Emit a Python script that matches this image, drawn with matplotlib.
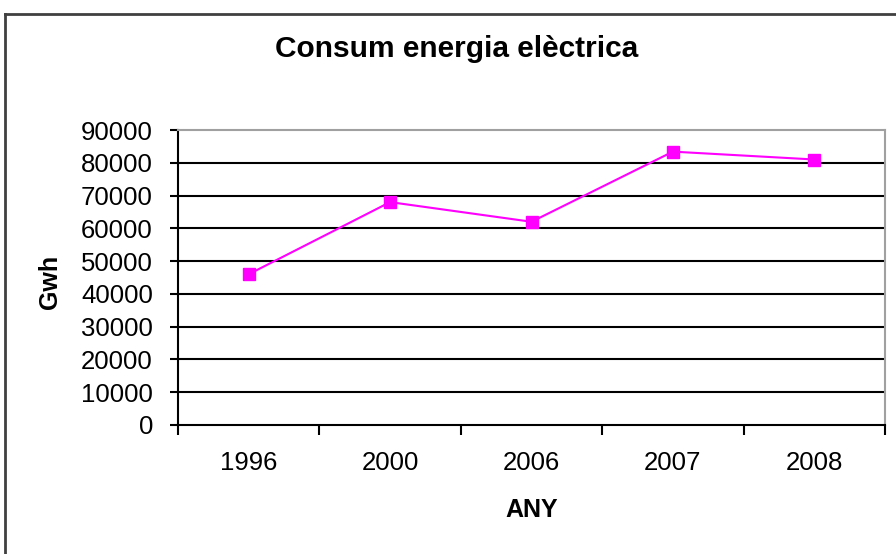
import matplotlib
matplotlib.use("Agg")
import matplotlib.pyplot as plt
from matplotlib.lines import Line2D
from matplotlib.ticker import FixedLocator, NullFormatter

years = ["1996", "2000", "2006", "2007", "2008"]
gwh = [46000, 68000, 62000, 83400, 81000]
y_ticks = list(range(0, 90001, 10000))

font = "Liberation Sans"

W, H = 896, 554
fig = plt.figure(figsize=(W / 100, H / 100), dpi=100)
ax = fig.add_axes([178 / W, 1 - 425 / H, (885 - 178) / W, (425 - 130) / H])

x = list(range(len(years)))
ax.plot(x, gwh, color="#FF00FF", linewidth=1.5, marker="s", markersize=8.5, zorder=5)

ax.set_xlim(-0.5, len(years) - 0.5)
ax.set_ylim(0, 90000)
ax.set_yticks(y_ticks)
ax.set_yticklabels([str(v) for v in y_ticks], fontfamily=font, fontsize=18.5)
ax.set_xticks(x)
ax.set_xticklabels(years, fontfamily=font, fontsize=18.5)
ax.xaxis.set_minor_locator(FixedLocator([i - 0.5 for i in range(len(years) + 1)]))
ax.xaxis.set_minor_formatter(NullFormatter())
ax.tick_params(axis="x", which="major", length=0, pad=19)
ax.tick_params(axis="x", which="minor", length=7, width=1.5, direction="out", color="black")
ax.tick_params(axis="y", length=6, width=1.5, direction="out", pad=12)

for v in y_ticks[1:-1]:
    ax.axhline(v, color="black", linewidth=1.5, zorder=1)

ax.spines["left"].set_color("black")
ax.spines["bottom"].set_color("black")
ax.spines["left"].set_linewidth(1.5)
ax.spines["bottom"].set_linewidth(1.5)
ax.spines["top"].set_color("#A0A0A0")
ax.spines["right"].set_color("#A0A0A0")
ax.spines["top"].set_linewidth(1.5)
ax.spines["right"].set_linewidth(1.5)

fig.text(457 / W, 1 - 49 / H, "Consum energia elèctrica", ha="center", va="center",
         fontfamily=font, fontweight="bold", fontsize=21.5)
fig.text(532 / W, 1 - 510 / H, "ANY", ha="center", va="center",
         fontfamily=font, fontweight="bold", fontsize=18)
fig.text(50 / W, 1 - 282 / H, "Gwh", ha="center", va="center", rotation=90,
         fontfamily=font, fontweight="bold", fontsize=18)

# outer chart border (cut off at the right and bottom)
fig.add_artist(Line2D([5 / W, 5 / W], [0, 1 - 14 / H], color="#404040", linewidth=2))
fig.add_artist(Line2D([5 / W, 1], [1 - 14 / H, 1 - 14 / H], color="#404040", linewidth=2))

fig.savefig("out.png", dpi=100)
